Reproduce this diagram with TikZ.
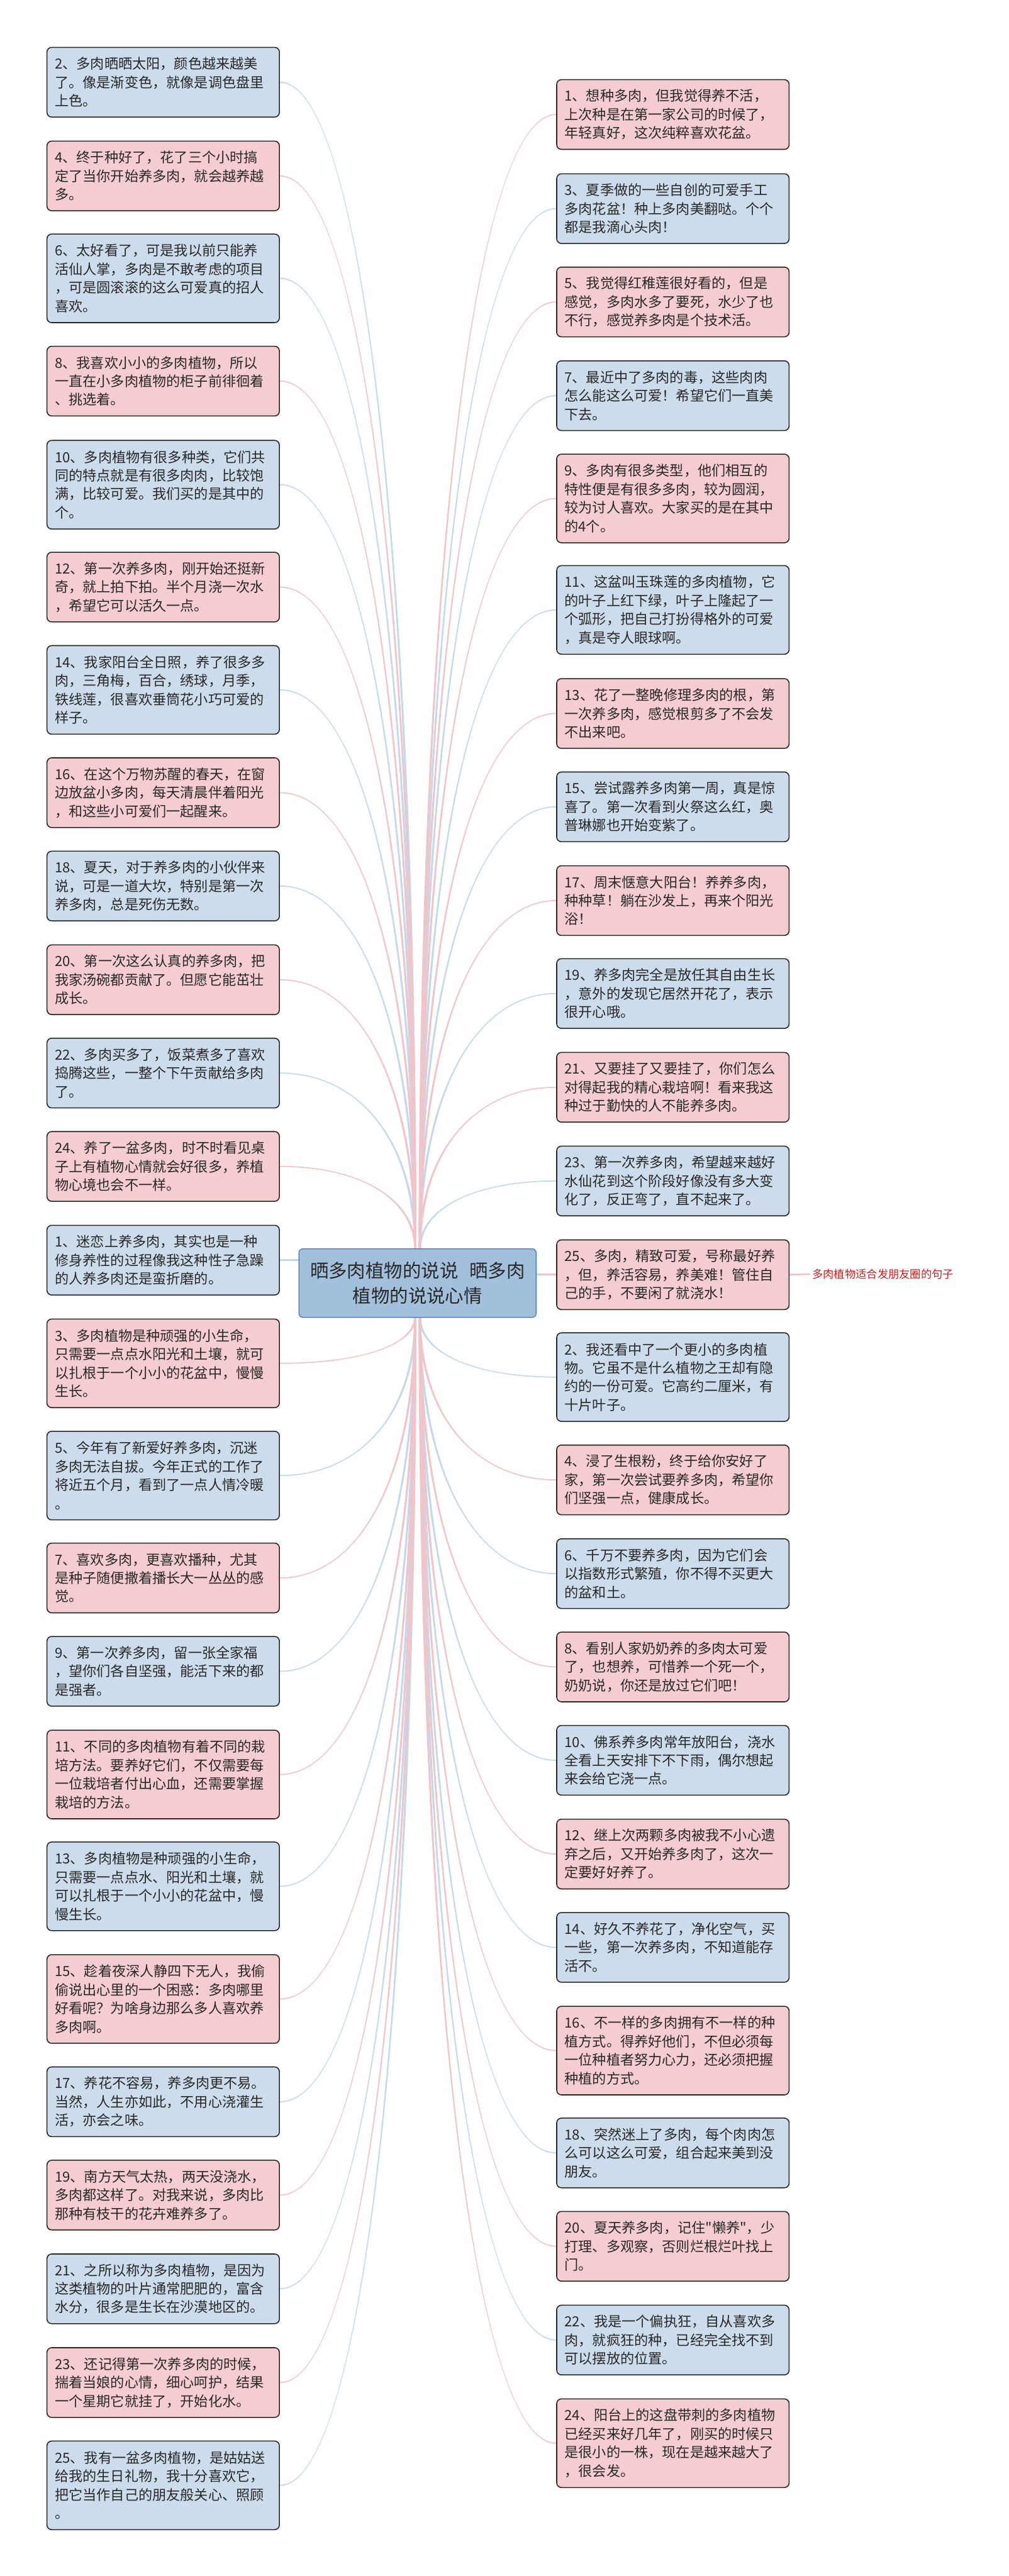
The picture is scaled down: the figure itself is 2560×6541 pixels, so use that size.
\documentclass[tikz,border=0pt]{standalone}
\usepackage{fontspec}
\setmainfont{Noto Sans CJK SC}
\newfontfamily\rawfont{Noto Sans CJK SC}
\usetikzlibrary{backgrounds,calc}
\definecolor{bfill}{RGB}{205,220,236}
\definecolor{pfill}{RGB}{245,205,208}
\definecolor{cfill}{RGB}{162,192,220}
\definecolor{cdraw}{RGB}{58,118,208}
\definecolor{bline}{RGB}{196,216,235}
\definecolor{pline}{RGB}{241,196,201}
\definecolor{txt}{RGB}{40,40,40}
\definecolor{labred}{RGB}{200,30,30}
\tikzset{
 mmbox/.style={anchor=north west, draw=black!85, line width=2.5pt, rounded corners=12pt, text width=550pt, inner xsep=20pt, inner ysep=0pt, align=left, text=txt, font=\fontsize{35.4pt}{47pt}\selectfont},
 blubox/.style={mmbox, fill=bfill},
 pnkbox/.style={mmbox, fill=pfill},
 hthree/.style={minimum height=177pt},
 hfour/.style={minimum height=225pt},
 blink/.style={draw=bline, line width=4.5pt},
 plink/.style={draw=pline, line width=4.5pt},
}
% tapered curved connector: #1 start coordinate, #2 end anchor, #3 colour, #4 end half-width with pairing sign
\newcommand\mmtaper[4]{%
 \fill[#3] ($(#1)+(-3,0)$)
   .. controls ($(#1)!0.6!(#1 |- #2)+(-3,0)$) and ($(#2)!0.6!(#2 -| #1)+(0,#4)$)
   .. ($(#2)+(0,#4)$) -- ($(#2)-(0,#4)$)
   .. controls ($(#2)!0.6!(#2 -| #1)-(0,#4)$) and ($(#1)!0.6!(#1 |- #2)+(3,0)$)
   .. ($(#1)+(3,0)$) -- cycle;}
\begin{document}
\begin{tikzpicture}[x=1pt,y=-1pt]
\useasboundingbox (0,0) rectangle (2560,6541);
% central node
\node[draw=cdraw, fill=cfill, line width=2pt, rounded corners=10pt, minimum width=602pt, minimum height=174pt, align=center, text=txt, font=\fontsize{47pt}{64pt}\selectfont] (C) at (1060,3258) {晒多肉植物的说说\hspace{0.6em}晒多肉\\植物的说说心情};
\coordinate (tl) at (1054,3172);
\coordinate (tr) at (1066,3172);
\coordinate (bl) at (1054,3344);
\coordinate (br) at (1066,3344);
% left column
\node[blubox,hthree] (L2) at (118,119) {2、多肉晒晒太阳，颜色越来越美\\了。像是渐变色，就像是调色盘里\\上色。};
\node[pnkbox,hthree] (L4) at (118,357) {4、终于种好了，花了三个小时搞\\定了当你开始养多肉，就会越养越\\多。};
\node[blubox,hfour] (L6) at (118,593) {6、太好看了，可是我以前只能养\\活仙人掌，多肉是不敢考虑的项目\\，可是圆滚滚的这么可爱真的招人\\喜欢。};
\node[pnkbox,hthree] (L8) at (118,878) {8、我喜欢小小的多肉植物，所以\\一直在小多肉植物的柜子前徘徊着\\、挑选着。};
\node[blubox,hfour] (L10) at (118,1117) {10、多肉植物有很多种类，它们共\\同的特点就是有很多肉肉，比较饱\\满，比较可爱。我们买的是其中的\\个。};
\node[pnkbox,hthree] (L12) at (118,1401) {12、第一次养多肉，刚开始还挺新\\奇，就上拍下拍。半个月浇一次水\\，希望它可以活久一点。};
\node[blubox,hfour] (L14) at (118,1638) {14、我家阳台全日照，养了很多多\\肉，三角梅，百合，绣球，月季，\\铁线莲，很喜欢垂筒花小巧可爱的\\样子。};
\node[pnkbox,hthree] (L16) at (118,1923) {16、在这个万物苏醒的春天，在窗\\边放盆小多肉，每天清晨伴着阳光\\，和这些小可爱们一起醒来。};
\node[blubox,hthree] (L18) at (118,2160) {18、夏天，对于养多肉的小伙伴来\\说，可是一道大坎，特别是第一次\\养多肉，总是死伤无数。};
\node[pnkbox,hthree] (L20) at (118,2398) {20、第一次这么认真的养多肉，把\\我家汤碗都贡献了。但愿它能茁壮\\成长。};
\node[blubox,hthree] (L22) at (118,2635) {22、多肉买多了，饭菜煮多了喜欢\\捣腾这些，一整个下午贡献给多肉\\了。};
\node[pnkbox,hthree] (L24) at (118,2872) {24、养了一盆多肉，时不时看见桌\\子上有植物心情就会好很多，养植\\物心境也会不一样。};
\node[blubox,hthree] (L1) at (118,3110) {1、迷恋上养多肉，其实也是一种\\修身养性的过程像我这种性子急躁\\的人养多肉还是蛮折磨的。};
\node[pnkbox,hfour] (L3) at (118,3348) {3、多肉植物是种顽强的小生命，\\只需要一点点水阳光和土壤，就可\\以扎根于一个小小的花盆中，慢慢\\生长。};
\node[blubox,hfour] (L5) at (118,3633) {5、今年有了新爱好养多肉，沉迷\\多肉无法自拔。今年正式的工作了\\将近五个月，看到了一点人情冷暖\\。};
\node[pnkbox,hthree] (L7) at (118,3917) {7、喜欢多肉，更喜欢播种，尤其\\是种子随便撒着播长大一丛丛的感\\觉。};
\node[blubox,hthree] (L9) at (118,4154) {9、第一次养多肉，留一张全家福\\，望你们各自坚强，能活下来的都\\是强者。};
\node[pnkbox,hfour] (L11) at (118,4392) {11、不同的多肉植物有着不同的栽\\培方法。要养好它们，不仅需要每\\一位栽培者付出心血，还需要掌握\\栽培的方法。};
\node[blubox,hfour] (L13) at (118,4676) {13、多肉植物是种顽强的小生命，\\只需要一点点水、阳光和土壤，就\\可以扎根于一个小小的花盆中，慢\\慢生长。};
\node[pnkbox,hfour] (L15) at (118,4962) {15、趁着夜深人静四下无人，我偷\\偷说出心里的一个困惑：多肉哪里\\好看呢？为啥身边那么多人喜欢养\\多肉啊。};
\node[blubox,hthree] (L17) at (118,5247) {17、养花不容易，养多肉更不易。\\当然，人生亦如此，不用心浇灌生\\活，亦会之味。};
\node[pnkbox,hthree] (L19) at (118,5484) {19、南方天气太热，两天没浇水，\\多肉都这样了。对我来说，多肉比\\那种有枝干的花卉难养多了。};
\node[blubox,hthree] (L21) at (118,5722) {21、之所以称为多肉植物，是因为\\这类植物的叶片通常肥肥的，富含\\水分，很多是生长在沙漠地区的。};
\node[pnkbox,hthree] (L23) at (118,5960) {23、还记得第一次养多肉的时候，\\揣着当娘的心情，细心呵护，结果\\一个星期它就挂了，开始化水。};
\node[blubox,hfour] (L25) at (118,6197) {25、我有一盆多肉植物，是姑姑送\\给我的生日礼物，我十分喜欢它，\\把它当作自己的朋友般关心、照顾\\。};
% right column
\node[pnkbox,hthree] (R1) at (1412,201) {1、想种多肉，但我觉得养不活，\\上次种是在第一家公司的时候了，\\年轻真好，这次纯粹喜欢花盆。};
\node[blubox,hthree] (R3) at (1412,440) {3、夏季做的一些自创的可爱手工\\多肉花盆！种上多肉美翻哒。个个\\都是我滴心头肉！};
\node[pnkbox,hthree] (R5) at (1412,677) {5、我觉得红稚莲很好看的，但是\\感觉，多肉水多了要死，水少了也\\不行，感觉养多肉是个技术活。};
\node[blubox,hthree] (R7) at (1412,915) {7、最近中了多肉的毒，这些肉肉\\怎么能这么可爱！希望它们一直美\\下去。};
\node[pnkbox,hfour] (R9) at (1412,1152) {9、多肉有很多类型，他们相互的\\特性便是有很多多肉，较为圆润，\\较为讨人喜欢。大家买的是在其中\\的4个。};
\node[blubox,hfour] (R11) at (1412,1435) {11、这盆叫玉珠莲的多肉植物，它\\的叶子上红下绿，叶子上隆起了一\\个弧形，把自己打扮得格外的可爱\\，真是夺人眼球啊。};
\node[pnkbox,hthree] (R13) at (1412,1722) {13、花了一整晚修理多肉的根，第\\一次养多肉，感觉根剪多了不会发\\不出来吧。};
\node[blubox,hthree] (R15) at (1412,1959) {15、尝试露养多肉第一周，真是惊\\喜了。第一次看到火祭这么红，奥\\普琳娜也开始变紫了。};
\node[pnkbox,hthree] (R17) at (1412,2197) {17、周末惬意大阳台！养养多肉，\\种种草！躺在沙发上，再来个阳光\\浴！};
\node[blubox,hthree] (R19) at (1412,2433) {19、养多肉完全是放任其自由生长\\，意外的发现它居然开花了，表示\\很开心哦。};
\node[pnkbox,hthree] (R21) at (1412,2671) {21、又要挂了又要挂了，你们怎么\\对得起我的精心栽培啊！看来我这\\种过于勤快的人不能养多肉。};
\node[blubox,hthree] (R23) at (1412,2909) {23、第一次养多肉，希望越来越好\\水仙花到这个阶段好像没有多大变\\化了，反正弯了，直不起来了。};
\node[pnkbox,hthree] (R25) at (1412,3147) {25、多肉，精致可爱，号称最好养\\，但，养活容易，养美难！管住自\\己的手，不要闲了就浇水！};
\node[blubox,hfour] (R2) at (1412,3383) {2、我还看中了一个更小的多肉植\\物。它虽不是什么植物之王却有隐\\约的一份可爱。它高约二厘米，有\\十片叶子。};
\node[pnkbox,hthree] (R4) at (1412,3668) {4、浸了生根粉，终于给你安好了\\家，第一次尝试要养多肉，希望你\\们坚强一点，健康成长。};
\node[blubox,hthree] (R6) at (1412,3906) {6、千万不要养多肉，因为它们会\\以指数形式繁殖，你不得不买更大\\的盆和土。};
\node[pnkbox,hthree] (R8) at (1412,4143) {8、看别人家奶奶养的多肉太可爱\\了，也想养，可惜养一个死一个，\\奶奶说，你还是放过它们吧！};
\node[blubox,hthree] (R10) at (1412,4380) {10、佛系养多肉常年放阳台，浇水\\全看上天安排下不下雨，偶尔想起\\来会给它浇一点。};
\node[pnkbox,hthree] (R12) at (1412,4618) {12、继上次两颗多肉被我不小心遗\\弃之后，又开始养多肉了，这次一\\定要好好养了。};
\node[blubox,hthree] (R14) at (1412,4855) {14、好久不养花了，净化空气，买\\一些，第一次养多肉，不知道能存\\活不。};
\node[pnkbox,hfour] (R16) at (1412,5093) {16、不一样的多肉拥有不一样的种\\植方式。得养好他们，不但必须每\\一位种植者努力心力，还必须把握\\种植的方式。};
\node[blubox,hthree] (R18) at (1412,5377) {18、突然迷上了多肉，每个肉肉怎\\么可以这么可爱，组合起来美到没\\朋友。};
\node[pnkbox,hthree] (R20) at (1412,5614) {20、夏天养多肉，记住{\rawfont"}懒养{\rawfont"}，少\\打理、多观察，否则烂根烂叶找上\\门。};
\node[blubox,hthree] (R22) at (1412,5852) {22、我是一个偏执狂，自从喜欢多\\肉，就疯狂的种，已经完全找不到\\可以摆放的位置。};
\node[pnkbox,hfour] (R24) at (1412,6090) {24、阳台上的这盘带刺的多肉植物\\已经买来好几年了，刚买的时候只\\是很小的一株，现在是越来越大了\\，很会发。};
% label
\node[anchor=west, text=labred, font=\fontsize{27.6pt}{34pt}\selectfont, inner xsep=6pt, inner ysep=4pt] (lab) at (2056,3235) {多肉植物适合发朋友圈的句子};
% connectors
\begin{pgfonlayer}{background}
\fill[white] (0,0) rectangle (2560,6541);
\foreach \n in {L2,L6,L10,L14,L18,L22} {\mmtaper{tl}{\n.east}{bline}{1.4}}
\foreach \n in {L4,L8,L12,L16,L20,L24} {\mmtaper{tl}{\n.east}{pline}{1.4}}
\foreach \n in {L5,L9,L13,L17,L21,L25} {\mmtaper{bl}{\n.east}{bline}{-1.4}}
\foreach \n in {L3,L7,L11,L15,L19,L23} {\mmtaper{bl}{\n.east}{pline}{-1.4}}
\foreach \n in {R3,R7,R11,R15,R19,R23} {\mmtaper{tr}{\n.west}{bline}{-1.4}}
\foreach \n in {R1,R5,R9,R13,R17,R21} {\mmtaper{tr}{\n.west}{pline}{-1.4}}
\foreach \n in {R2,R6,R10,R14,R18,R22} {\mmtaper{br}{\n.west}{bline}{1.4}}
\foreach \n in {R4,R8,R12,R16,R20,R24} {\mmtaper{br}{\n.west}{pline}{1.4}}
\draw[blink] (L1.east -| C.west) -- (L1.east);
\draw[plink] (R25.west -| C.east) -- (R25.west);
\draw[plink] (R25.east) -- (lab.west);
\end{pgfonlayer}
\end{tikzpicture}
\end{document}
